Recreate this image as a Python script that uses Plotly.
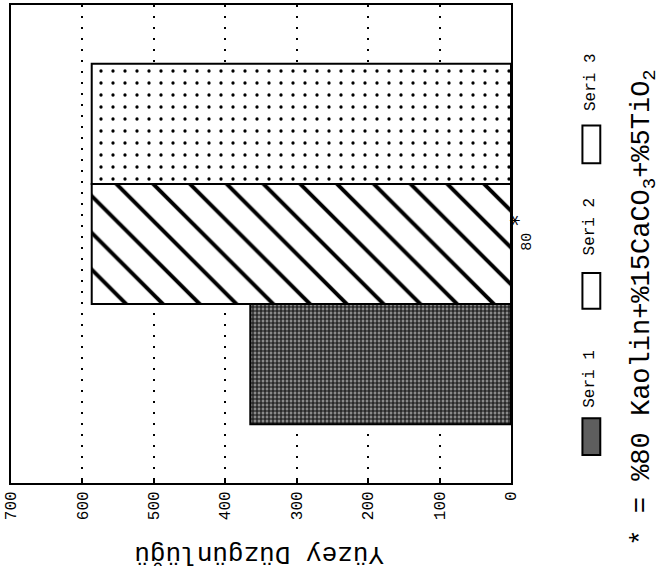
import plotly.graph_objects as go

# ---- data ----
categories = ["80"]
series_names = ["Seri 1", "Seri 2", "Seri 3"]
seri1 = [365]
seri2 = [587]
seri3 = [587]
value_ticks = [0, 100, 200, 300, 400, 500, 600, 700]
axis_title = "Yüzey Düzgünlüğü"
note_text = "* = %80 Kaolin+%15CaCO<sub>3</sub>+%5TiO<sub>2</sub>"

W, H = 670, 575
L, R, T, B = 7, 511, 3, 483  # plot frame in pixels


def px(x):
    return (x - L) / (R - L)


def py(y):
    return (B - y) / (B - T)


MONO = "Liberation Mono, DejaVu Sans Mono, monospace"

patterns = [
    dict(shape="+", size=4, solidity=0.5, fgcolor="#111111", bgcolor="#8a8a8a", fgopacity=1),
    dict(shape="\\", size=26, solidity=0.15, fgcolor="#000000", bgcolor="white", fgopacity=1),
    dict(shape=".", size=12, solidity=0.06, fgcolor="#000000", bgcolor="white", fgopacity=1),
]
values = [seri1, seri2, seri3]

fig = go.Figure()
for name, vals, pat in zip(series_names, values, patterns):
    fig.add_trace(go.Bar(
        y=categories, x=vals, name=name, orientation="h",
        marker=dict(color="white", pattern=pat,
                    line=dict(color="black", width=2)),
        showlegend=False,
    ))

fig.update_layout(
    width=W, height=H,
    margin=dict(l=L, r=W - R, t=T, b=H - B, pad=0),
    paper_bgcolor="white", plot_bgcolor="white",
    barmode="group", bargap=0.246, bargroupgap=0,
    font=dict(family=MONO, color="black"),
)
fig.update_xaxes(
    range=[700.01, -0.01], tickvals=value_ticks, ticktext=[str(v) for v in value_ticks],
    tickangle=-90, tickfont=dict(size=16, family=MONO), ticklabeloverflow="allow",
    showgrid=True, gridcolor="black", gridwidth=2, griddash="2px,9px",
    showline=True, linecolor="black", linewidth=2, mirror=True,
    ticks="inside", ticklen=5, tickwidth=2, tickcolor="black",
    zeroline=False,
)
fig.update_yaxes(
    side="right", tickangle=-90, tickfont=dict(size=15, family=MONO),
    showline=True, linecolor="black", linewidth=2, mirror=True,
    ticks="", showgrid=False,
)

ann = []
# axis title (upside down, as in the scan)
ann.append(dict(text=axis_title, x=px(257), y=py(555), xref="paper", yref="paper",
                textangle=180, showarrow=False, font=dict(size=26, family=MONO),
                xanchor="center", yanchor="middle"))
# composition note
ann.append(dict(text=note_text, x=px(645), y=py(307), xref="paper", yref="paper",
                textangle=-90, showarrow=False, font=dict(size=27, family=MONO),
                xanchor="center", yanchor="middle"))
# asterisk on the category label
ann.append(dict(text="*", x=px(518), y=py(219), xref="paper", yref="paper",
                textangle=-90, showarrow=False, font=dict(size=22, family="DejaVu Sans"),
                xanchor="center", yanchor="middle"))

# manual rotated legend
sw_y = [(418, 455), (272, 308), (124, 162)]
txt_y = [378, 225, 80]
sw_fill = ["#5e5e5e", "white", "white"]
shapes = []
for name, (y0, y1), ty, fc in zip(series_names, sw_y, txt_y, sw_fill):
    shapes.append(dict(type="rect", xref="paper", yref="paper",
                       x0=px(583), x1=px(601), y0=py(y1), y1=py(y0),
                       fillcolor=fc, line=dict(color="black", width=2)))
    ann.append(dict(text=name, x=px(591), y=py(ty), xref="paper", yref="paper",
                    textangle=-90, showarrow=False, font=dict(size=16, family=MONO),
                    xanchor="center", yanchor="middle"))

fig.update_layout(annotations=ann, shapes=shapes)
fig.write_html("out.html")
